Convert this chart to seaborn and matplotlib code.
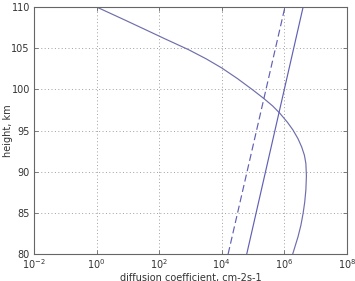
import numpy as np
import pandas as pd
import matplotlib
matplotlib.use("Agg")
import matplotlib.pyplot as plt
import seaborn as sns
from matplotlib.ticker import NullLocator

# Data
curve_height = [110, 108.5, 107.4, 106.2, 104.8, 103.7, 102.6, 101.3, 100, 98.9,
                98, 97.1, 96, 95.06, 94, 93, 92, 91, 89.5, 87.8,
                86.3, 84.95, 83.5, 82.1, 80]
curve_diff = [1.0, 7.2, 30, 141, 890, 3.2e3, 1.0e4, 3.2e4, 9.3e4, 2.2e5,
              4.2e5, 7.2e5, 1.26e6, 1.9e6, 2.75e6, 3.6e6, 4.4e6, 4.9e6, 5.1e6, 4.9e6,
              4.5e6, 4.0e6, 3.4e6, 2.75e6, 1.86e6]
dashed_height = [80, 110]
dashed_diff = [1.6e4, 1.05e6]
solid_height = [80, 110]
solid_diff = [6.3e4, 4.0e6]

x_ticks = [1e-2, 1e0, 1e2, 1e4, 1e6, 1e8]
y_ticks = [80, 85, 90, 95, 100, 105, 110]

sns.set_style("white")
plt.rcParams['font.family'] = ['DejaVu Sans']
plt.rcParams['font.size'] = 7

fig = plt.figure(figsize=(3.55, 2.81), dpi=100)
ax = fig.add_axes([0.096, 0.096, 0.881, 0.879])

line_color = '#6060b4'
curve_color = '#6e6eac'

sns.lineplot(x=curve_diff, y=curve_height, sort=False, estimator=None, ax=ax,
             color=curve_color, linewidth=0.85)
sns.lineplot(x=dashed_diff, y=dashed_height, sort=False, estimator=None, ax=ax,
             color=line_color, linewidth=0.85, linestyle=(0, (6, 3)))
sns.lineplot(x=solid_diff, y=solid_height, sort=False, estimator=None, ax=ax,
             color=line_color, linewidth=0.85)

ax.set_xscale('log')
ax.set_xlim(1e-2, 1e8)
ax.set_ylim(80, 110)
ax.set_xticks(x_ticks)
ax.xaxis.set_minor_locator(NullLocator())
ax.set_yticks(y_ticks)

ax.grid(True, which='major', linestyle=(0, (1, 2.5)), color='#a0a0a0', linewidth=0.7)
for s in ax.spines.values():
    s.set_color('#666666')
    s.set_linewidth(0.8)
ax.tick_params(direction='in', length=3, width=0.6, colors='#666666',
               labelcolor='#333333', labelsize=7, top=True, right=True,
               bottom=True, left=True)
ax.tick_params(axis='x', pad=2.5)
ax.tick_params(axis='y', pad=3)

ax.set_xlabel('diffusion coefficient, cm-2s-1', fontsize=7, color='#333333', labelpad=1)
ax.set_ylabel('height, km', fontsize=7, color='#333333', labelpad=-1)

fig.savefig('out.png', dpi=100)
